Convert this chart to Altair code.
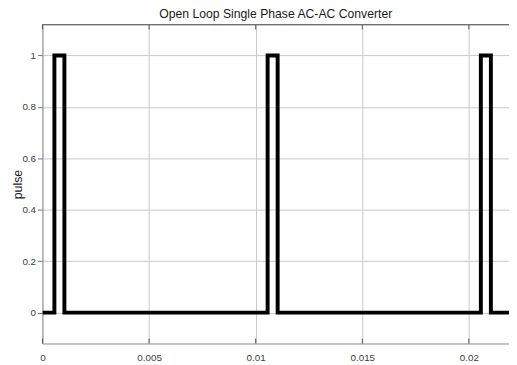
import altair as alt
import pandas as pd

# step signal: change points (time in s) and the level that starts there
times = [0.0, 0.00056, 0.00103, 0.01056, 0.01103, 0.02056, 0.02103, 0.0225]
levels = [0, 1, 0, 1, 0, 1, 0, 0]

x_ticks = [0, 0.005, 0.01, 0.015, 0.02]
y_ticks = [0, 0.2, 0.4, 0.6, 0.8, 1]

X_MAX = 0.02188
Y_MIN, Y_MAX = -0.12, 1.12
W, H = 474, 324

df = pd.DataFrame({"t": times, "pulse": levels})
xt = pd.DataFrame({"t": x_ticks})

xs = alt.Scale(domain=[0, X_MAX], nice=False, zero=False)
ys = alt.Scale(domain=[Y_MIN, Y_MAX], nice=False, zero=False)

font = "Liberation Sans"
grid_col = "#c8c8c8"
axis_col = "#9a9a9a"
text_col = "#404040"

line = alt.Chart(df).mark_line(
    interpolate="step-after", color="black", strokeWidth=4, clip=True,
    strokeJoin="miter", strokeCap="butt"
).encode(
    x=alt.X("t:Q", scale=xs, axis=alt.Axis(
        values=x_ticks, title=None, grid=True, gridColor=grid_col,
        domainColor=axis_col, tickSize=0, labelPadding=9,
        labelFontSize=10, labelColor=text_col, labelFont=font,
        format="~g", labelFlush=False)),
    y=alt.Y("pulse:Q", scale=ys, axis=alt.Axis(
        values=y_ticks, title="pulse", grid=True, gridColor=grid_col,
        domainColor=axis_col, tickColor="#707070", tickSize=5,
        labelPadding=2, labelFontSize=10, labelColor=text_col,
        format="~g",
        labelFont=font, titleFont=font, titleFontSize=12.5,
        titleFontWeight="normal", titleColor="#1a1a1a",
        titleX=-21, titleY=H / 2, titleAngle=-90, titleAlign="center",
        titleBaseline="alphabetic"))
)

# inward ticks at the bottom and the top of the box
bottom_ticks = alt.Chart(xt).mark_rule(color="#555555", strokeWidth=1).encode(
    x=alt.X("t:Q", scale=xs), y=alt.value(H), y2=alt.value(H - 5))
top_ticks = alt.Chart(xt).mark_rule(color="#555555", strokeWidth=1).encode(
    x=alt.X("t:Q", scale=xs), y=alt.value(0), y2=alt.value(5))
top_border = alt.Chart(xt).mark_rule(color="#707070", strokeWidth=1).encode(
    x=alt.value(0), x2=alt.value(W), y=alt.value(0))

chart = alt.layer(line, bottom_ticks, top_ticks, top_border).properties(
    width=W, height=H,
    title=alt.Title("Open Loop Single Phase AC-AC Converter", font=font,
                    fontSize=12.4, fontWeight="normal", color="#1a1a1a",
                    offset=4, anchor="middle"),
    autosize=alt.AutoSizeParams(type="none"),
    padding={"left": 35, "top": 14, "right": 0, "bottom": 18},
).configure_view(stroke=None).configure(background="white")

chart.save("out.html", embed_options={"renderer": "svg", "actions": False})
